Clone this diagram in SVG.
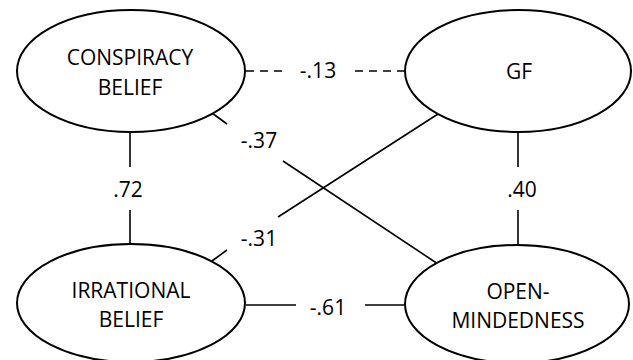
<svg xmlns="http://www.w3.org/2000/svg" width="633" height="360" viewBox="0 0 633 360">
<style>
.node{fill:#fff;stroke:#000;stroke-width:2}
.t{font-family:"Open Sans","Liberation Sans",sans-serif;font-size:21px;fill:#000;text-anchor:middle}
.c{stroke:#000;stroke-width:1.6;fill:none}
.d{stroke-dasharray:8,6}
</style>
<rect width="633" height="360" fill="#fff"/>
<g id="connectors">
<line class="c" x1="130" y1="132" x2="130" y2="167"/>
<line class="c" x1="130" y1="210" x2="130" y2="244"/>
<text class="t" x="128" y="197">.72</text>
<line class="c" x1="518" y1="132" x2="518" y2="167"/>
<line class="c" x1="518" y1="210" x2="518" y2="245"/>
<text class="t" x="522" y="197">.40</text>
<line class="c d" x1="246" y1="71" x2="288" y2="71"/>
<line class="c d" x1="405" y1="71" x2="351" y2="71"/>
<text class="t" x="318" y="78">-.13</text>
<line class="c" x1="212" y1="113" x2="227" y2="124"/>
<line class="c" x1="283" y1="161" x2="438" y2="264"/>
<text class="t" x="259" y="148">-.37</text>
<line class="c" x1="438" y1="114" x2="278" y2="217"/>
<line class="c" x1="227" y1="250" x2="212" y2="261"/>
<text class="t" x="259" y="246">-.31</text>
<line class="c" x1="246" y1="305" x2="296" y2="305"/>
<line class="c" x1="365" y1="305" x2="405" y2="305"/>
<text class="t" x="328" y="315">-.61</text>
</g>
<g id="conspiracy">
<ellipse class="node" cx="131" cy="71" rx="114" ry="61"/>
<text class="t" x="130" y="65">CONSPIRACY</text>
<text class="t" x="130" y="95">BELIEF</text>
</g>
<g id="gf">
<ellipse class="node" cx="518" cy="71" rx="113" ry="61"/>
<text class="t" x="519" y="79">GF</text>
</g>
<g id="irrational">
<ellipse class="node" cx="131" cy="303" rx="114" ry="59"/>
<text class="t" x="131" y="298">IRRATIONAL</text>
<text class="t" x="131" y="327">BELIEF</text>
</g>
<g id="openmindedness">
<ellipse class="node" cx="517" cy="304" rx="112" ry="59"/>
<text class="t" x="518" y="299">OPEN-</text>
<text class="t" x="518" y="328">MINDEDNESS</text>
</g>
</svg>
